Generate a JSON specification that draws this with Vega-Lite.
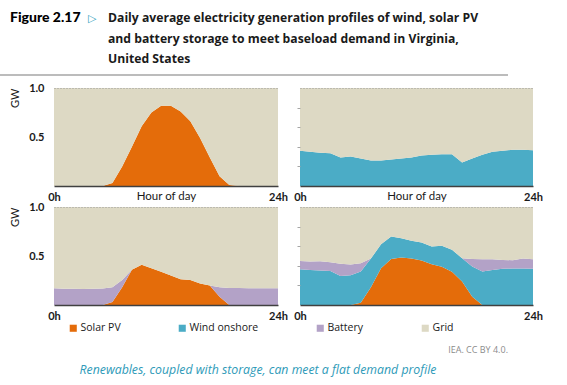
{
  "$schema": "https://vega.github.io/schema/vega-lite/v6.json",
  "padding": {"left": 9, "top": 9, "right": 0, "bottom": 4},
  "background": "white",
  "config": {
    "font": "Lato",
    "view": {"stroke": null},
    "title": {"font": "Open Sans", "color": "#1a1a1a"},
    "axis": {"labelFont": "Lato", "titleFont": "Lato", "labelColor": "#1a1a1a", "titleColor": "#1a1a1a"},
    "legend": {
      "orient": "none", "legendX": 14, "legendY": 235, "direction": "horizontal", "columns": 4,
      "symbolType": "square", "symbolSize": 50, "symbolStrokeWidth": 0, "labelFontSize": 10.5,
      "labelFont": "Open Sans", "labelColor": "#1a1a1a", "columnPadding": 56, "gridAlign": "none",
      "labelOffset": 2, "padding": 0
    }
  },
  "resolve": {"scale": {"color": "independent"}},
  "columns": 1,
  "align": "none",
  "spacing": 3,
  "concat": [
    {
      "hconcat": [
        {"width": 78, "height": 1, "data": {"values": [{}]}, "mark": {"type": "rule", "opacity": 0}, "encoding": {"y": {"value": 0}},
         "title": {"text": "Figure 2.17", "orient": "bottom", "anchor": "start", "dx": -44, "font": "Lato", "fontSize": 14, "fontWeight": 900, "color": "#000000", "offset": 1}},
        {"width": 20, "height": 1, "data": {"values": [{}]}, "mark": {"type": "rule", "opacity": 0}, "encoding": {"y": {"value": 0}},
         "title": {"text": "▷", "orient": "bottom", "anchor": "start", "dx": -44, "font": "DejaVu Sans", "fontSize": 11, "fontWeight": "normal", "color": "#31A0BE", "offset": 3}},
        {"width": 400, "height": 1, "data": {"values": [{}]}, "mark": {"type": "rule", "opacity": 0}, "encoding": {"y": {"value": 0}},
         "title": {"text": ["Daily average electricity generation profiles of wind, solar PV", "and battery storage to meet baseload demand in Virginia,", "United States"], "orient": "bottom", "anchor": "start", "dx": -44, "fontSize": 12.2, "fontWeight": "bold", "lineHeight": 20.5, "color": "#1a1a1a", "offset": 2}},
        {"width": 1, "height": 70, "data": {"values": [{}]}, "mark": {"type": "rule", "opacity": 0}, "encoding": {"y": {"value": 0}}}
      ],
      "bounds": "flush",
      "spacing": 0
    },
    {
      "data": {"values": [
        {"p":"a","h":0,"Solar PV":0,"Grid":1},{"p":"a","h":1,"Solar PV":0,"Grid":1},{"p":"a","h":2,"Solar PV":0,"Grid":1},{"p":"a","h":3,"Solar PV":0,"Grid":1},
        {"p":"a","h":4,"Solar PV":0,"Grid":1},{"p":"a","h":5,"Solar PV":0,"Grid":1},{"p":"a","h":6,"Solar PV":0.03,"Grid":0.97},{"p":"a","h":7,"Solar PV":0.2,"Grid":0.8},
        {"p":"a","h":8,"Solar PV":0.4,"Grid":0.6},{"p":"a","h":9,"Solar PV":0.61,"Grid":0.39},{"p":"a","h":10,"Solar PV":0.75,"Grid":0.25},{"p":"a","h":11,"Solar PV":0.82,"Grid":0.18},
        {"p":"a","h":12,"Solar PV":0.82,"Grid":0.18},{"p":"a","h":13,"Solar PV":0.76,"Grid":0.24},{"p":"a","h":14,"Solar PV":0.66,"Grid":0.34},{"p":"a","h":15,"Solar PV":0.49,"Grid":0.51},
        {"p":"a","h":16,"Solar PV":0.29,"Grid":0.71},{"p":"a","h":17,"Solar PV":0.1,"Grid":0.9},{"p":"a","h":18,"Solar PV":0.01,"Grid":0.99},{"p":"a","h":19,"Solar PV":0,"Grid":1},
        {"p":"a","h":20,"Solar PV":0,"Grid":1},{"p":"a","h":21,"Solar PV":0,"Grid":1},{"p":"a","h":22,"Solar PV":0,"Grid":1},{"p":"a","h":23,"Solar PV":0,"Grid":1},

        {"p":"b","h":0,"Wind onshore":0.36,"Grid":0.64},{"p":"b","h":1,"Wind onshore":0.35,"Grid":0.65},{"p":"b","h":2,"Wind onshore":0.34,"Grid":0.66},{"p":"b","h":3,"Wind onshore":0.335,"Grid":0.665},
        {"p":"b","h":4,"Wind onshore":0.29,"Grid":0.71},{"p":"b","h":5,"Wind onshore":0.3,"Grid":0.7},{"p":"b","h":6,"Wind onshore":0.28,"Grid":0.72},{"p":"b","h":7,"Wind onshore":0.26,"Grid":0.74},
        {"p":"b","h":8,"Wind onshore":0.26,"Grid":0.74},{"p":"b","h":9,"Wind onshore":0.27,"Grid":0.73},{"p":"b","h":10,"Wind onshore":0.28,"Grid":0.72},{"p":"b","h":11,"Wind onshore":0.29,"Grid":0.71},
        {"p":"b","h":12,"Wind onshore":0.31,"Grid":0.69},{"p":"b","h":13,"Wind onshore":0.32,"Grid":0.68},{"p":"b","h":14,"Wind onshore":0.325,"Grid":0.675},{"p":"b","h":15,"Wind onshore":0.325,"Grid":0.675},
        {"p":"b","h":16,"Wind onshore":0.24,"Grid":0.76},{"p":"b","h":17,"Wind onshore":0.28,"Grid":0.72},{"p":"b","h":18,"Wind onshore":0.32,"Grid":0.68},{"p":"b","h":19,"Wind onshore":0.35,"Grid":0.65},
        {"p":"b","h":20,"Wind onshore":0.36,"Grid":0.64},{"p":"b","h":21,"Wind onshore":0.37,"Grid":0.63},{"p":"b","h":22,"Wind onshore":0.37,"Grid":0.63},{"p":"b","h":23,"Wind onshore":0.365,"Grid":0.635},

        {"p":"c","h":0,"Solar PV":0,"Battery":0.17,"Grid":0.83},{"p":"c","h":1,"Solar PV":0,"Battery":0.167,"Grid":0.833},{"p":"c","h":2,"Solar PV":0,"Battery":0.165,"Grid":0.835},
        {"p":"c","h":3,"Solar PV":0,"Battery":0.164,"Grid":0.836},{"p":"c","h":4,"Solar PV":0,"Battery":0.166,"Grid":0.834},{"p":"c","h":5,"Solar PV":0,"Battery":0.168,"Grid":0.832},
        {"p":"c","h":6,"Solar PV":0.03,"Battery":0.15,"Grid":0.82},{"p":"c","h":7,"Solar PV":0.18,"Battery":0.076,"Grid":0.744},{"p":"c","h":8,"Solar PV":0.36,"Battery":0,"Grid":0.64},
        {"p":"c","h":9,"Solar PV":0.41,"Battery":0,"Grid":0.59},{"p":"c","h":10,"Solar PV":0.375,"Battery":0,"Grid":0.625},{"p":"c","h":11,"Solar PV":0.34,"Battery":0,"Grid":0.66},
        {"p":"c","h":12,"Solar PV":0.3,"Battery":0,"Grid":0.7},{"p":"c","h":13,"Solar PV":0.263,"Battery":0,"Grid":0.737},{"p":"c","h":14,"Solar PV":0.256,"Battery":0,"Grid":0.744},
        {"p":"c","h":15,"Solar PV":0.22,"Battery":0,"Grid":0.78},{"p":"c","h":16,"Solar PV":0.2,"Battery":0,"Grid":0.8},{"p":"c","h":17,"Solar PV":0.085,"Battery":0.095,"Grid":0.82},
        {"p":"c","h":18,"Solar PV":0,"Battery":0.174,"Grid":0.826},{"p":"c","h":19,"Solar PV":0,"Battery":0.174,"Grid":0.826},{"p":"c","h":20,"Solar PV":0,"Battery":0.17,"Grid":0.83},
        {"p":"c","h":21,"Solar PV":0,"Battery":0.17,"Grid":0.83},{"p":"c","h":22,"Solar PV":0,"Battery":0.17,"Grid":0.83},{"p":"c","h":23,"Solar PV":0,"Battery":0.17,"Grid":0.83},

        {"p":"d","h":0,"Solar PV":0,"Wind onshore":0.365,"Battery":0.085,"Grid":0.55},
        {"p":"d","h":1,"Solar PV":0,"Wind onshore":0.358,"Battery":0.086,"Grid":0.556},
        {"p":"d","h":2,"Solar PV":0,"Wind onshore":0.352,"Battery":0.095,"Grid":0.553},
        {"p":"d","h":3,"Solar PV":0,"Wind onshore":0.348,"Battery":0.089,"Grid":0.563},
        {"p":"d","h":4,"Solar PV":0,"Wind onshore":0.297,"Battery":0.123,"Grid":0.58},
        {"p":"d","h":5,"Solar PV":0,"Wind onshore":0.304,"Battery":0.109,"Grid":0.587},
        {"p":"d","h":6,"Solar PV":0.024,"Wind onshore":0.317,"Battery":0.086,"Grid":0.573},
        {"p":"d","h":7,"Solar PV":0.18,"Wind onshore":0.294,"Battery":0,"Grid":0.526},
        {"p":"d","h":8,"Solar PV":0.375,"Wind onshore":0.245,"Battery":0,"Grid":0.38},
        {"p":"d","h":9,"Solar PV":0.47,"Wind onshore":0.23,"Battery":0,"Grid":0.3},
        {"p":"d","h":10,"Solar PV":0.485,"Wind onshore":0.195,"Battery":0,"Grid":0.32},
        {"p":"d","h":11,"Solar PV":0.474,"Wind onshore":0.181,"Battery":0,"Grid":0.345},
        {"p":"d","h":12,"Solar PV":0.454,"Wind onshore":0.184,"Battery":0,"Grid":0.362},
        {"p":"d","h":13,"Solar PV":0.416,"Wind onshore":0.181,"Battery":0,"Grid":0.403},
        {"p":"d","h":14,"Solar PV":0.39,"Wind onshore":0.214,"Battery":0,"Grid":0.396},
        {"p":"d","h":15,"Solar PV":0.34,"Wind onshore":0.223,"Battery":0,"Grid":0.437},
        {"p":"d","h":16,"Solar PV":0.24,"Wind onshore":0.238,"Battery":0,"Grid":0.522},
        {"p":"d","h":17,"Solar PV":0.085,"Wind onshore":0.307,"Battery":0.078,"Grid":0.53},
        {"p":"d","h":18,"Solar PV":0,"Wind onshore":0.341,"Battery":0.127,"Grid":0.532},
        {"p":"d","h":19,"Solar PV":0,"Wind onshore":0.358,"Battery":0.11,"Grid":0.532},
        {"p":"d","h":20,"Solar PV":0,"Wind onshore":0.369,"Battery":0.091,"Grid":0.54},
        {"p":"d","h":21,"Solar PV":0,"Wind onshore":0.372,"Battery":0.085,"Grid":0.543},
        {"p":"d","h":22,"Solar PV":0,"Wind onshore":0.372,"Battery":0.102,"Grid":0.526},
        {"p":"d","h":23,"Solar PV":0,"Wind onshore":0.369,"Battery":0.099,"Grid":0.532}
      ]},
      "columns": 2,
      "bounds": "flush",
      "spacing": {"row": 21, "column": 22},
      "concat": [
        {
          "width": 224, "height": 98,
          "resolve": {"scale": {"x": "independent"}, "axis": {"x": "independent"}},
          "layer": [
            {
              "transform": [{"filter": "datum.p == 'a'"}, {"fold": ["Solar PV", "Grid"], "as": ["source", "gw"]},
                            {"calculate": "indexof(['Solar PV','Wind onshore','Battery','Grid'], datum.source)", "as": "k"}],
              "mark": {"type": "area", "clip": true},
              "encoding": {
                "x": {"field": "h", "type": "quantitative", "scale": {"domain": [0, 23], "nice": false, "zero": false},
                      "axis": {"values": [0, 23], "labelExpr": "datum.value == 0 ? '0h' : '24h'", "labelFlush": false, "ticks": false, "grid": false, "domainColor": "#404040", "domainWidth": 1.5, "labelFontWeight": "bold", "labelFontSize": 11, "labelPadding": 5, "title": "Hour of day", "titleFontWeight": "normal", "titleFontSize": 11.5, "titlePadding": -12, "zindex": 1}},
                "y": {"field": "gw", "type": "quantitative", "stack": "zero", "scale": {"domain": [0, 1], "nice": false},
                      "axis": {"values": [0.5, 1], "format": ".1f", "ticks": false, "domain": false, "labelFontWeight": "bold", "labelFontSize": 11, "labelPadding": 10, "title": "GW", "titleAnchor": "end", "titleFontWeight": "normal", "titleFontSize": 11, "titlePadding": 8, "grid": true, "gridColor": "#9A9A9A", "gridDash": [1, 2], "gridOpacity": {"condition": {"test": "datum.value == 1", "value": 1}, "value": 0}, "zindex": 1}},
                "order": {"field": "k", "type": "quantitative"},
                "color": {"field": "source", "type": "nominal",
                          "scale": {"domain": ["Solar PV", "Wind onshore", "Battery", "Grid"], "range": ["#E46C0A", "#4BACC6", "#B3A2C7", "#DDD9C4"]},
                          "legend": {"title": null}}
              }
            },
            {
              "data": {"values": [{}]},
              "mark": {"type": "point", "opacity": 0, "size": 1},
              "encoding": {
                "x": {"datum": 0, "type": "quantitative", "scale": {"domain": [0, 1], "range": [0, 508]},
                      "axis": {"orient": "top", "labels": false, "ticks": false, "grid": false, "title": null, "domain": true, "domainColor": "#A6A6A6", "domainWidth": 1.5, "translate": -54, "offset": -41, "minExtent": 0, "maxExtent": 0}}
              }
            }
          ]
        },
        {
          "width": 233, "height": 98,
          "transform": [{"filter": "datum.p == 'b'"}, {"fold": ["Wind onshore", "Grid"], "as": ["source", "gw"]},
                        {"calculate": "indexof(['Solar PV','Wind onshore','Battery','Grid'], datum.source)", "as": "k"}],
          "mark": {"type": "area", "clip": true},
          "encoding": {
            "x": {"field": "h", "type": "quantitative", "scale": {"domain": [0, 23], "nice": false, "zero": false},
                  "axis": {"values": [0, 23], "labelExpr": "datum.value == 0 ? '0h' : '24h'", "labelFlush": false, "ticks": false, "grid": false, "domainColor": "#404040", "domainWidth": 1.5, "labelFontWeight": "bold", "labelFontSize": 11, "labelPadding": 5, "title": "Hour of day", "titleFontWeight": "normal", "titleFontSize": 11.5, "titlePadding": -12, "zindex": 1}},
            "y": {"field": "gw", "type": "quantitative", "stack": "zero", "scale": {"domain": [0, 1], "nice": false},
                  "axis": {"values": [0.2, 0.4, 0.6, 0.8, 1], "labels": false, "ticks": true, "tickSize": 3, "tickColor": "#A6A6A6", "tickOpacity": {"condition": {"test": "datum.value == 1", "value": 0}, "value": 1}, "domain": false, "title": null, "grid": true, "gridColor": "#9A9A9A", "gridDash": [1, 2], "gridOpacity": {"condition": {"test": "datum.value == 1", "value": 1}, "value": 0}, "zindex": 1}},
            "order": {"field": "k", "type": "quantitative"},
            "color": {"field": "source", "type": "nominal",
                      "scale": {"domain": ["Solar PV", "Wind onshore", "Battery", "Grid"], "range": ["#E46C0A", "#4BACC6", "#B3A2C7", "#DDD9C4"]},
                      "legend": {"title": null}}
          }
        },
        {
          "width": 224, "height": 98,
          "transform": [{"filter": "datum.p == 'c'"}, {"fold": ["Solar PV", "Battery", "Grid"], "as": ["source", "gw"]},
                        {"calculate": "indexof(['Solar PV','Wind onshore','Battery','Grid'], datum.source)", "as": "k"}],
          "mark": {"type": "area", "clip": true},
          "encoding": {
            "x": {"field": "h", "type": "quantitative", "scale": {"domain": [0, 23], "nice": false, "zero": false},
                  "axis": {"values": [0, 23], "labelExpr": "datum.value == 0 ? '0h' : '24h'", "labelFlush": false, "ticks": false, "grid": false, "domainColor": "#404040", "domainWidth": 1.5, "labelFontWeight": "bold", "labelFontSize": 11, "labelPadding": 5, "title": null, "zindex": 1}},
            "y": {"field": "gw", "type": "quantitative", "stack": "zero", "scale": {"domain": [0, 1], "nice": false},
                  "axis": {"values": [0.5, 1], "format": ".1f", "ticks": false, "domain": false, "labelFontWeight": "bold", "labelFontSize": 11, "labelPadding": 10, "title": "GW", "titleAnchor": "end", "titleFontWeight": "normal", "titleFontSize": 11, "titlePadding": 8, "grid": true, "gridColor": "#9A9A9A", "gridDash": [1, 2], "gridOpacity": {"condition": {"test": "datum.value == 1", "value": 1}, "value": 0}, "zindex": 1}},
            "order": {"field": "k", "type": "quantitative"},
            "color": {"field": "source", "type": "nominal",
                      "scale": {"domain": ["Solar PV", "Wind onshore", "Battery", "Grid"], "range": ["#E46C0A", "#4BACC6", "#B3A2C7", "#DDD9C4"]},
                      "legend": {"title": null}}
          }
        },
        {
          "width": 233, "height": 98,
          "transform": [{"filter": "datum.p == 'd'"}, {"fold": ["Solar PV", "Wind onshore", "Battery", "Grid"], "as": ["source", "gw"]},
                        {"calculate": "indexof(['Solar PV','Wind onshore','Battery','Grid'], datum.source)", "as": "k"}],
          "mark": {"type": "area", "clip": true},
          "encoding": {
            "x": {"field": "h", "type": "quantitative", "scale": {"domain": [0, 23], "nice": false, "zero": false},
                  "axis": {"values": [0, 23], "labelExpr": "datum.value == 0 ? '0h' : '24h'", "labelFlush": false, "ticks": false, "grid": false, "domainColor": "#404040", "domainWidth": 1.5, "labelFontWeight": "bold", "labelFontSize": 11, "labelPadding": 5, "title": null, "zindex": 1}},
            "y": {"field": "gw", "type": "quantitative", "stack": "zero", "scale": {"domain": [0, 1], "nice": false},
                  "axis": {"values": [0.2, 0.4, 0.6, 0.8, 1], "labels": false, "ticks": true, "tickSize": 3, "tickColor": "#A6A6A6", "tickOpacity": {"condition": {"test": "datum.value == 1", "value": 0}, "value": 1}, "domain": false, "title": null, "grid": true, "gridColor": "#9A9A9A", "gridDash": [1, 2], "gridOpacity": {"condition": {"test": "datum.value == 1", "value": 1}, "value": 0}, "zindex": 1}},
            "order": {"field": "k", "type": "quantitative"},
            "color": {"field": "source", "type": "nominal",
                      "scale": {"domain": ["Solar PV", "Wind onshore", "Battery", "Grid"], "range": ["#E46C0A", "#4BACC6", "#B3A2C7", "#DDD9C4"]},
                      "legend": {"title": null}}
          }
        }
      ]
    },
    {"width": 454, "height": 1, "data": {"values": [{}]}, "mark": {"type": "rule", "opacity": 0}, "encoding": {"y": {"value": 0}},
     "title": {"text": "IEA. CC BY 4.0.", "orient": "bottom", "anchor": "end", "fontSize": 9, "fontWeight": "normal", "color": "#8C8C8C", "offset": 8}},
    {"width": 408, "height": 1, "data": {"values": [{}]}, "mark": {"type": "rule", "opacity": 0}, "encoding": {"y": {"value": 0}},
     "title": {"text": "Renewables, coupled with storage, can meet a flat demand profile", "orient": "bottom", "anchor": "middle", "fontSize": 12.3, "fontStyle": "italic", "fontWeight": "normal", "color": "#2E9AB8", "offset": 5}}
  ]
}
